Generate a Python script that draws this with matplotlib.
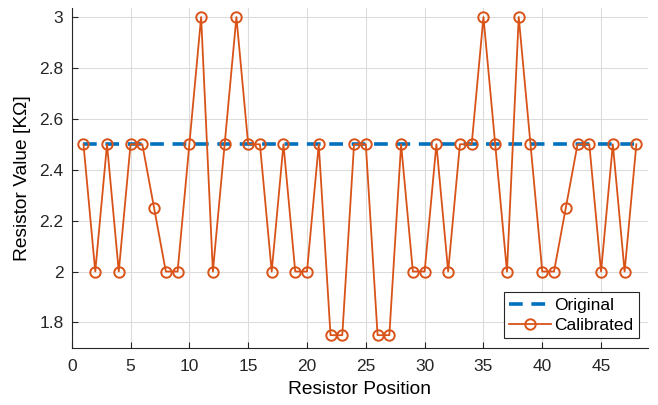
import numpy as np
import matplotlib
matplotlib.use("Agg")
import matplotlib.pyplot as plt
from matplotlib.ticker import FuncFormatter

plt.rcParams['font.family'] = ['Liberation Sans', 'DejaVu Sans']

position = np.arange(1, 49)
original = [2.5] * 48
calibrated = [2.5, 2.0, 2.5, 2.0, 2.5, 2.5, 2.25, 2.0, 2.0, 2.5,
              3.0, 2.0, 2.5, 3.0, 2.5, 2.5, 2.0, 2.5, 2.0, 2.0,
              2.5, 1.75, 1.75, 2.5, 2.5, 1.75, 1.75, 2.5, 2.0, 2.0,
              2.5, 2.0, 2.5, 2.5, 3.0, 2.5, 2.0, 3.0, 2.5, 2.0,
              2.0, 2.25, 2.5, 2.5, 2.0, 2.5, 2.0, 2.5]

blue = '#0072BD'
orange = '#D95319'
axcol = '#262626'

fig = plt.figure(figsize=(6.58, 4.05), dpi=100)
ax = fig.add_axes([0.109, 0.141, 0.876, 0.839])

ax.plot(position, original, '--', color=blue, lw=2.6, dashes=(3.8, 2.4),
        label='Original')
ax.plot(position, calibrated, '-o', color=orange, lw=1.3, ms=7.5,
        mfc='none', mew=1.4, label='Calibrated')

ax.set_xlim(0, 49)
ax.set_ylim(1.7, 3.035)
ax.set_xticks(range(0, 50, 5))
ax.set_yticks([1.8, 2.0, 2.2, 2.4, 2.6, 2.8, 3.0])
ax.yaxis.set_major_formatter(FuncFormatter(lambda v, p: f'{v:g}'))

ax.grid(True, color='#dcdcdc', lw=0.8)
ax.set_axisbelow(True)
for s in ['top', 'right']:
    ax.spines[s].set_visible(False)
for s in ['left', 'bottom']:
    ax.spines[s].set_color(axcol)
    ax.spines[s].set_linewidth(0.8)
ax.tick_params(direction='in', length=4, width=0.8, colors=axcol,
               labelsize=12.5, pad=6)
ax.tick_params(axis='x', pad=8)

ax.set_xlabel('Resistor Position', fontsize=13.75, color='black', labelpad=5)
ax.set_ylabel('Resistor Value [KΩ]', fontsize=13.75, color='black', labelpad=6)

leg = ax.legend(loc='lower right', fontsize=12.5, fancybox=False,
                framealpha=1, edgecolor=axcol, borderpad=0.3,
                handlelength=2.4, handletextpad=0.2, labelspacing=0.3,
                borderaxespad=0.55)
leg.get_frame().set_linewidth(0.8)

fig.savefig('out.png', dpi=100)
